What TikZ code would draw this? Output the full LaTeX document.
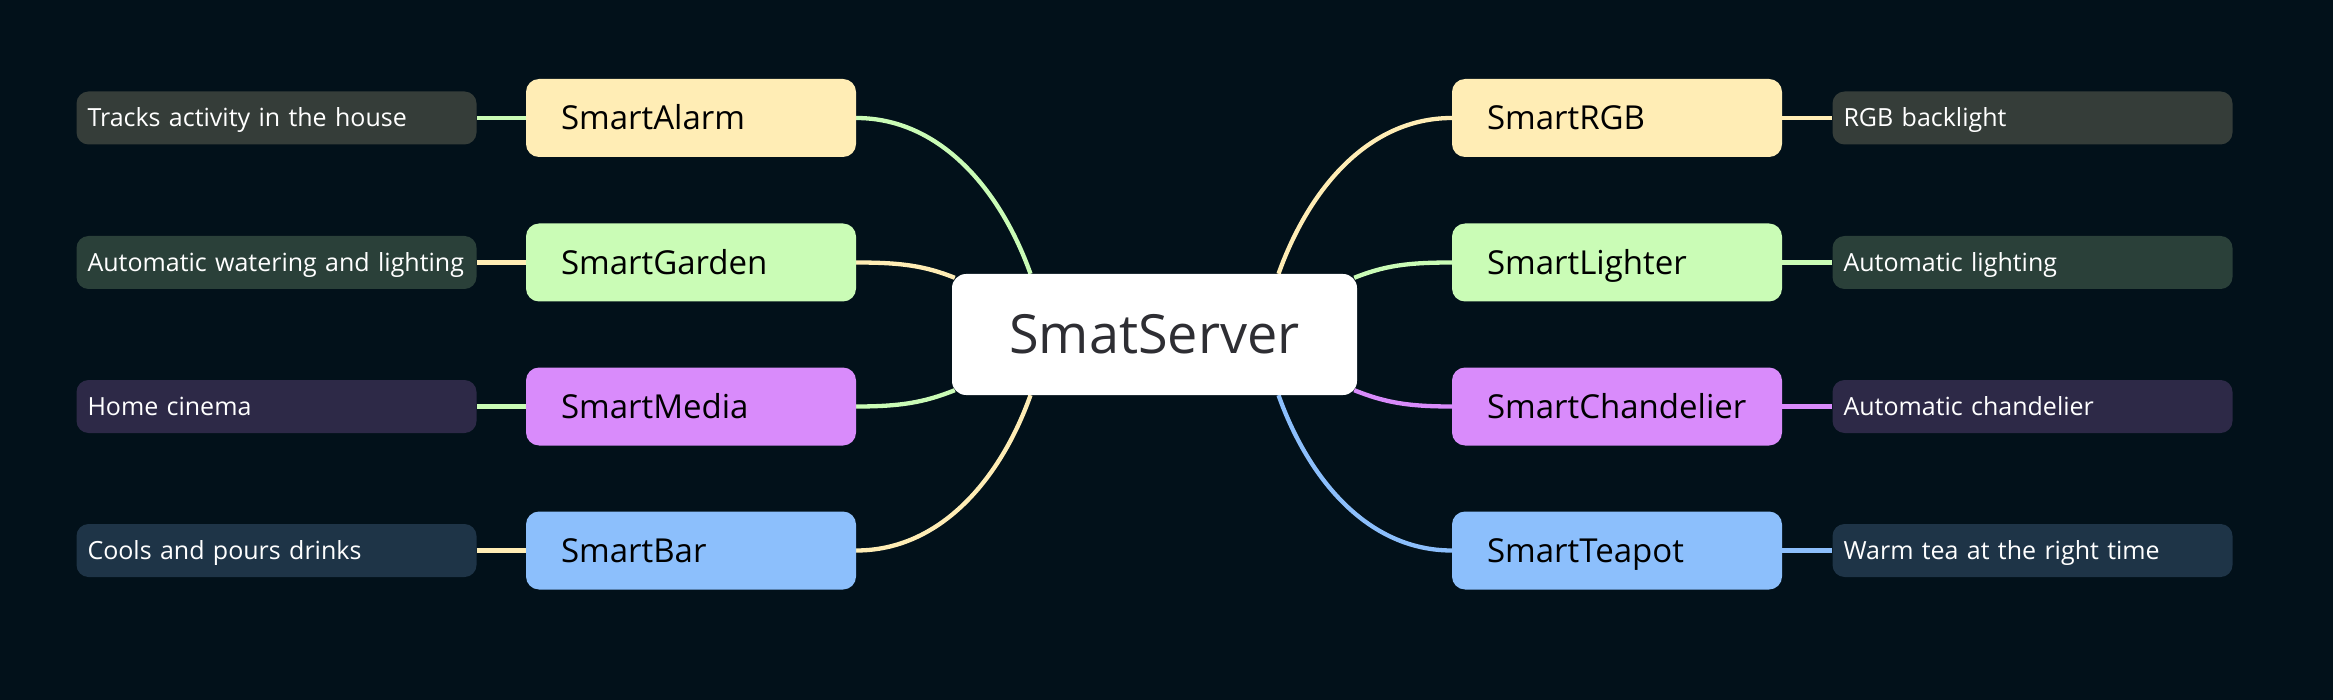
\documentclass[tikz,border=0pt]{standalone}
\usepackage{fontspec}
\setmainfont{Open Sans}
\usetikzlibrary{calc}
\definecolor{bgc}{HTML}{02111A}
\definecolor{yel}{HTML}{FFEDB5}
\definecolor{grn}{HTML}{CAFCB6}
\definecolor{pur}{HTML}{D98BFB}
\definecolor{blu}{HTML}{8CBFFC}
\definecolor{roottext}{HTML}{2E2E33}
\pgfdeclarelayer{bglayer}
\pgfdeclarelayer{edges}
\pgfsetlayers{bglayer,edges,main}
\tikzset{
  mainbox/.style={draw=none, fill=#1, rounded corners=13pt, minimum height=78pt,
    text width=260pt, inner xsep=35pt, inner ysep=0pt, align=left, text=black,
    font=\fontsize{33}{38}\selectfont, text height=23.6pt, text depth=0pt},
  descbox/.style={draw=none, fill=#1!20!bgc, rounded corners=12pt, minimum height=53pt,
    text width=385pt, inner xsep=7.5pt, inner ysep=0pt, align=left, text=white,
    font=\fontsize{25}{30}\selectfont, text height=17.9pt, text depth=0pt,
    execute at begin node={\hspace*{3.5pt}}},
  rootbox/.style={draw=none, fill=white, rounded corners=14pt, minimum width=405pt,
    minimum height=121pt, inner sep=0pt, text=roottext, font=\fontsize{54}{60}\selectfont,
    text height=38.6pt, text depth=0pt},
  link/.style={draw=#1, line width=4.3pt},
}
\begin{document}
\begin{tikzpicture}[x=1pt,y=-1pt]
\begin{pgfonlayer}{bglayer}
\fill[bgc] (0,0) rectangle (2333,700);
\end{pgfonlayer}
\useasboundingbox (0,0) rectangle (2333,700);

\node[rootbox] (root) at (1154.5,334.5) {SmatServer};

% left main nodes
\node[mainbox=yel] (alarm) at (691,118) {SmartAlarm};
\node[mainbox=grn] (garden) at (691,262.5) {SmartGarden};
\node[mainbox=pur] (media) at (691,406.5) {SmartMedia};
\node[mainbox=blu] (bar) at (691,550.5) {SmartBar};
% right main nodes
\node[mainbox=yel] (rgb) at (1617,118) {SmartRGB};
\node[mainbox=grn] (lighter) at (1617,262.5) {SmartLighter};
\node[mainbox=pur] (chand) at (1617,406.5) {SmartChandelier};
\node[mainbox=blu] (teapot) at (1617,550.5) {SmartTeapot};

% left descriptions
\node[descbox=yel] (dalarm) at (276.5,118) {Tracks activity in the house};
\node[descbox=grn] (dgarden) at (276.5,262.5) {Automatic watering and lighting};
\node[descbox=pur] (dmedia) at (276.5,406.5) {Home cinema};
\node[descbox=blu] (dbar) at (276.5,550.5) {Cools and pours drinks};
% right descriptions
\node[descbox=yel] (drgb) at (2032.5,118) {RGB backlight};
\node[descbox=grn] (dlighter) at (2032.5,262.5) {Automatic lighting};
\node[descbox=pur] (dchand) at (2032.5,406.5) {Automatic chandelier};
\node[descbox=blu] (dteapot) at (2032.5,550.5) {Warm tea at the right time};

% attachment points on the root
\coordinate (tl) at ($(root.north)+(-124,0)$);
\coordinate (tr) at ($(root.north)+(124,0)$);
\coordinate (bl) at ($(root.south)+(-124,0)$);
\coordinate (br) at ($(root.south)+(124,0)$);
\coordinate (lt) at ($(root.north west)+(3,4)$);
\coordinate (lb) at ($(root.south west)+(3,-5)$);
\coordinate (rt) at ($(root.north east)+(-3,4)$);
\coordinate (rb) at ($(root.south east)+(-3,-5)$);

\begin{pgfonlayer}{edges}
\draw[link=grn] (alarm.east) .. controls +(84,0) and +(-30,-84) .. (tl);
\draw[link=yel] (garden.east) .. controls +(45,0) and +(-30,-12) .. (lt);
\draw[link=grn] (media.east) .. controls +(45,0) and +(-30,12) .. (lb);
\draw[link=yel] (bar.east) .. controls +(84,0) and +(-30,84) .. (bl);
\draw[link=yel] (rgb.west) .. controls +(-84,0) and +(30,-84) .. (tr);
\draw[link=grn] (lighter.west) .. controls +(-45,0) and +(30,-12) .. (rt);
\draw[link=pur] (chand.west) .. controls +(-45,0) and +(30,12) .. (rb);
\draw[link=blu] (teapot.west) .. controls +(-84,0) and +(30,84) .. (br);

\draw[link=grn] (dalarm.east) -- (alarm.west);
\draw[link=yel] (dgarden.east) -- (garden.west);
\draw[link=grn] (dmedia.east) -- (media.west);
\draw[link=yel] (dbar.east) -- (bar.west);
\draw[link=yel] (rgb.east) -- (drgb.west);
\draw[link=grn] (lighter.east) -- (dlighter.west);
\draw[link=pur] (chand.east) -- (dchand.west);
\draw[link=blu] (teapot.east) -- (dteapot.west);
\end{pgfonlayer}
\end{tikzpicture}
\end{document}
